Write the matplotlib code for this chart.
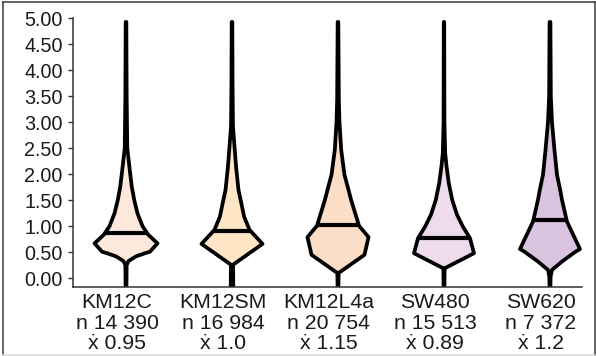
import numpy as np
import matplotlib
matplotlib.use("Agg")
import matplotlib.pyplot as plt
import matplotlib.transforms as mtransforms
from matplotlib.lines import Line2D

plt.rcParams['font.family'] = ['Liberation Sans', 'DejaVu Sans']

# cell lines, counts and summary labels
lines = ['KM12C', 'KM12SM', 'KM12L4a', 'SW480', 'SW620']
counts = ['14 390', '16 984', '20 754', '15 513', '7 372']
means = ['0.95', '1.0', '1.15', '0.89', '1.2']
medians = [0.86, 0.915, 1.025, 0.78, 1.11]
colors = ['#fce9dc', '#fde5c6', '#fcdec6', '#eedcec', '#d9c3df']

# violin outlines: value levels and half widths (x units)
km12c_y = [-0.16, 0.25, 0.33, 0.42, 0.48, 0.51, 0.67, 0.84, 1.0, 1.25, 1.5, 1.75, 2.0, 2.5, 3.5, 4.93]
km12c_w = [0.004, 0.006, 0.024, 0.094, 0.179, 0.226, 0.297, 0.208, 0.156, 0.108, 0.078, 0.055, 0.040, 0.012, 0.006, 0.003]

km12sm_y = [-0.16, 0.26, 0.66, 0.93, 1.18, 1.70, 2.15, 2.47, 2.92, 3.8, 4.93]
km12sm_w = [0.012, 0.010, 0.288, 0.165, 0.115, 0.061, 0.038, 0.026, 0.009, 0.005, 0.003]

km12l4a_y = [-0.16, 0.10, 0.45, 0.79, 1.01, 1.51, 1.70, 1.99, 2.47, 3.0, 3.43, 4.93]
km12l4a_w = [0.004, 0.006, 0.25, 0.288, 0.198, 0.123, 0.099, 0.061, 0.030, 0.014, 0.008, 0.003]

sw480_y = [-0.16, 0.19, 0.48, 0.77, 0.99, 1.22, 1.51, 1.83, 2.15, 2.41, 3.0, 4.93]
sw480_w = [0.004, 0.006, 0.283, 0.245, 0.179, 0.123, 0.077, 0.045, 0.024, 0.011, 0.004, 0.002]

sw620_y = [-0.16, 0.03, 0.16, 0.32, 0.51, 0.56, 1.09, 1.51, 1.70, 1.99, 2.47, 3.0, 3.49, 4.93]
sw620_w = [0.004, 0.006, 0.019, 0.113, 0.241, 0.283, 0.160, 0.113, 0.096, 0.066, 0.042, 0.019, 0.008, 0.004]

profiles_y = [km12c_y, km12sm_y, km12l4a_y, sw480_y, sw620_y]
profiles_w = [km12c_w, km12sm_w, km12l4a_w, sw480_w, sw620_w]

fig = plt.figure(figsize=(5.96, 3.56), dpi=100)
ax = fig.add_axes([0.1225, 0.1952, 0.854, 0.7534])

for i, (ys, ws) in enumerate(zip(profiles_y, profiles_w)):
    ys = np.array(ys)
    ws = np.array(ws)
    xs = np.concatenate([i - ws, (i + ws)[::-1]])
    yy = np.concatenate([ys, ys[::-1]])
    ax.fill(xs, yy, facecolor=colors[i], edgecolor='black', linewidth=2.7,
            joinstyle='round', zorder=2)
    hw = np.interp(medians[i], ys, ws)
    ax.plot([i - hw, i + hw], [medians[i], medians[i]], color='black',
            linewidth=3.0, solid_capstyle='butt', zorder=3)

ax.set_xlim(-0.5, 4.302)
ax.set_ylim(-0.16, 5.0)
ax.set_yticks(np.arange(0, 5.01, 0.5))
ax.set_yticklabels(['%.2f' % v for v in np.arange(0, 5.01, 0.5)])
ax.set_xticks(range(len(lines)))
ax.set_xticklabels(['%s\nn %s\nẋ %s' % (l, c, m) for l, c, m in zip(lines, counts, means)],
                   linespacing=1.12)
ax.tick_params(axis='y', direction='out', length=3.5, width=1, color='#333333',
               labelsize=14.2, pad=4, labelcolor='#1a1a1a')
ax.tick_params(axis='x', length=0, labelsize=15.3, pad=4.5, labelcolor='#1a1a1a')
# category labels sit a little left of the violins
shift = mtransforms.ScaledTranslation(-0.09, 0, fig.dpi_scale_trans)
for lab in ax.get_xticklabels():
    lab.set_transform(lab.get_transform() + shift)
for side in ['top', 'right']:
    ax.spines[side].set_visible(False)
for side in ['left', 'bottom']:
    ax.spines[side].set_color('#333333')
    ax.spines[side].set_linewidth(1.1)

# outer frame of the picture
frame_col = '#3a3a3a'
fig.add_artist(Line2D([3 / 596, 3 / 596], [1 / 356, 354 / 356], color=frame_col, lw=1.1))
fig.add_artist(Line2D([3 / 596, 594.5 / 596], [354 / 356, 354 / 356], color=frame_col, lw=1.1))
fig.add_artist(Line2D([594.5 / 596, 594.5 / 596], [1 / 356, 354 / 356], color=frame_col, lw=1.1))
fig.add_artist(Line2D([3 / 596, 594.5 / 596], [1 / 356, 1 / 356], color='#d8d8d8', lw=1.1))

fig.savefig('out.png', dpi=100)
